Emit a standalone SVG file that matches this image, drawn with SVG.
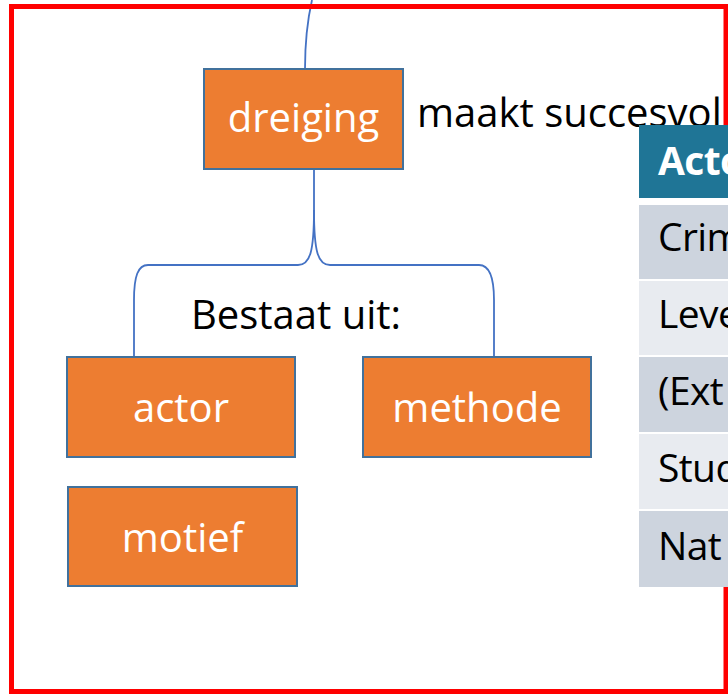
<svg xmlns="http://www.w3.org/2000/svg" width="728" height="694" viewBox="0 0 728 694">
<style>
.box{fill:#ED7D31;stroke:#41719C;stroke-width:2}
.bt{font-family:"Open Sans","Liberation Sans",sans-serif;font-size:40px;fill:#FFFFFF;text-anchor:middle}
.t{font-family:"Open Sans","Liberation Sans",sans-serif;font-size:40px;fill:#000000}
.tt{font-family:"Open Sans","Liberation Sans",sans-serif;font-size:39px;fill:#000000;letter-spacing:-0.6px}
.conn{fill:none;stroke:#4472C4;stroke-width:1.8}
.hdr{fill:#1F7596}
.dk{fill:#CDD4DE}
.lt{fill:#E8EBF0}
</style>
<rect x="0" y="0" width="728" height="694" fill="#FFFFFF"/>
<g id="connectors">
<path class="conn" d="M 312 0 C 307 22 305 45 305 69"/>
<path class="conn" d="M 314 169 V 210 C 314 252 310 265 298 265 H 148 C 138 265 134 276 134 300 V 357"/>
<path class="conn" d="M 314 210 C 314 252 318 265 330 265 H 479 C 489 265 494 276 494 300 V 357"/>
</g>
<g id="dreiging">
<rect class="box" x="204" y="69" width="199" height="100"/>
<text class="bt" x="303.5" y="132">dreiging</text>
</g>
<g id="label-maakt">
<text class="t" x="417" y="127">maakt succesvol</text>
</g>
<g id="label-bestaat">
<text class="t" x="191" y="329">Bestaat uit:</text>
</g>
<g id="actor">
<rect class="box" x="67" y="357" width="228" height="100"/>
<text class="bt" x="181" y="422">actor</text>
</g>
<g id="methode">
<rect class="box" x="363" y="357" width="228" height="100"/>
<text class="bt" x="477" y="422">methode</text>
</g>
<g id="motief">
<rect class="box" x="68" y="487" width="229" height="99"/>
<text class="bt" x="182.5" y="552">motief</text>
</g>
<rect x="11.5" y="6.5" width="714.5" height="685" fill="none" stroke="#FF0000" stroke-width="5"/>
<g id="table">
<rect x="639" y="125" width="89" height="462" fill="#FFFFFF"/>
<rect class="hdr" x="639" y="125" width="89" height="73"/>
<rect class="dk" x="639" y="205" width="89" height="74"/>
<rect class="lt" x="639" y="281" width="89" height="74"/>
<rect class="dk" x="639" y="357" width="89" height="75"/>
<rect class="lt" x="639" y="434" width="89" height="75"/>
<rect class="dk" x="639" y="511" width="89" height="76"/>
<text class="tt" x="658" y="175" style="fill:#FFFFFF;font-weight:bold">Acto</text>
<text class="tt" x="658" y="251">Crim</text>
<text class="tt" x="658" y="328">Leve</text>
<text class="tt" x="658" y="405">(Ext</text>
<text class="tt" x="658" y="482">Stud</text>
<text class="tt" x="658" y="560">Nat</text>
</g>
</svg>
